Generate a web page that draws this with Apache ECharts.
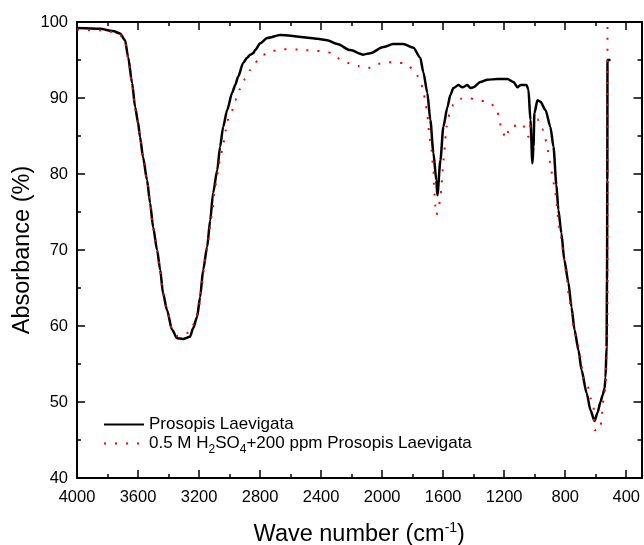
<!DOCTYPE html>
<html>
<head>
<meta charset="utf-8">
<script src="https://cdn.jsdelivr.net/npm/echarts@6/dist/echarts.min.js"></script>
<style>
html,body{margin:0;padding:0;background:#fff;}
#chart{width:644px;height:545px;}
</style>
</head>
<body>
<div id="chart"></div>
<script>
// ---- Data ----
const nameBlack = 'Prosopis Laevigata';
const nameRed = '0.5 M H2SO4+200 ppm Prosopis Laevigata';

const wavenumberBlack = [4000,3850,3764,3718,3685,3665,3639,3619,3600,3587,3567,3541,3521,3501,3475,3455,3436,3410,3377,3344,3305,3259,3239,3213,3193,3173,3147,3127,3108,3081,3062,3042,3016,2983,2963,2944,2911,2885,2865,2845,2832,2799,2753,2668,2602,2517,2425,2360,2294,2209,2124,2078,1992,1927,1861,1795,1750,1730,1704,1684,1664,1645,1638,1618,1599,1572,1553,1533,1500,1474,1441,1422,1402,1356,1310,1244,1179,1139,1113,1093,1054,1041,1028,1015,1008,1002,982,962,929,897,877,858,845,825,806,779,759,739,713,693,660,634,608,588,569,555,542,536,529,526,524,523,503];
const absorbanceBlack = [99.2,99.1,98.8,98.5,97.6,95.4,92.0,88.8,86.8,84.9,82.2,79.2,76.2,73.0,70.0,67.4,64.3,62.1,59.5,58.4,58.3,58.6,59.7,61.2,63.8,67.4,70.4,73.9,77.5,80.5,83.6,86.2,88.4,90.7,91.7,92.8,94.6,95.3,95.7,95.9,96.3,97.2,97.9,98.3,98.2,98.0,97.8,97.6,97.1,96.3,95.7,95.9,96.7,97.1,97.1,96.6,95.3,93.4,90.7,87.1,82.8,79.2,77.2,81.8,86.2,88.8,90.4,91.3,91.7,91.4,91.7,91.3,91.4,92.1,92.4,92.5,92.5,92.1,91.4,91.7,91.7,91.1,87.1,81.4,83.6,88.0,89.7,89.5,88.4,86.2,83.6,78.6,75.3,72.2,68.7,65.7,62.5,59.5,56.8,54.2,51.2,48.9,47.5,48.6,50.0,50.9,51.8,53.2,57.2,66.1,79.2,95.0,95.0];

const wavenumberRed = [4000,3850,3764,3718,3685,3665,3639,3619,3600,3587,3567,3541,3521,3501,3475,3455,3436,3410,3377,3344,3318,3259,3232,3206,3193,3186,3173,3167,3154,3140,3134,3121,3108,3101,3088,3075,3062,3042,3029,3016,2983,2963,2931,2898,2865,2832,2780,2721,2655,2583,2504,2432,2373,2327,2274,2222,2156,2097,2032,1966,1900,1841,1789,1756,1730,1717,1704,1697,1691,1677,1671,1664,1661,1658,1654,1645,1631,1618,1612,1605,1599,1592,1579,1559,1533,1487,1435,1369,1303,1251,1231,1218,1185,1166,1113,1080,1054,1041,1028,982,949,923,910,897,884,870,858,851,845,831,818,811,798,785,779,765,752,746,719,706,693,687,654,634,614,608,569,562,549,536,529,523,523];
const absorbanceRed = [99.0,98.9,98.7,98.3,97.4,95.2,91.8,88.6,86.6,84.8,82.1,79.1,76.1,72.9,69.9,67.3,64.3,62.1,59.6,58.7,58.7,59.2,60.3,61.8,63.4,65.0,66.4,68.0,69.6,71.1,72.6,74.2,75.7,77.4,78.8,80.4,82.1,83.8,85.4,87.0,88.4,89.7,91.2,92.5,93.7,94.7,95.7,96.2,96.4,96.4,96.3,96.2,96.1,95.9,95.1,94.6,94.2,93.9,94.5,94.7,94.7,94.5,93.6,92.6,91.1,89.5,88.0,86.4,84.9,83.4,81.8,80.3,78.8,77.6,76.2,74.6,75.4,76.8,78.4,80.1,81.6,83.2,86.2,87.8,89.1,89.9,90.0,89.7,89.5,88.7,87.2,85.7,84.7,86.2,86.4,86.6,85.4,84.9,86.4,87.2,85.9,84.3,82.8,81.3,79.7,78.3,76.7,75.0,73.6,72.0,70.4,68.9,67.4,65.8,64.3,62.8,61.2,59.7,57.9,56.4,54.9,53.3,52.2,50.5,49.3,46.3,46.4,48.0,50.3,52.0,55.9,59.5,99.5];

const xMajorTicks = [4000,3600,3200,2800,2400,2000,1600,1200,800,400];
const xMinorTicks = [3800,3400,3000,2600,2200,1800,1400,1000,600];
const yMin = 40, yMax = 100, yInterval = 10;
const xMin = 300, xMax = 4000;

// ---- Build ----
const FONT = 'Liberation Sans, Arial, Helvetica, sans-serif';
const pairs = (xs, ys) => xs.map((x, i) => [x, ys[i]]);

function xAxisDef(pos, ticks, len, withLine, withLabel) {
  return {
    type: 'value', position: pos, inverse: true, min: xMin, max: xMax,
    axisLine: { show: withLine, onZero: false, lineStyle: { color: '#000', width: 2 } },
    axisTick: { show: true, inside: true, length: len, customValues: ticks, lineStyle: { color: '#000', width: 1.5 } },
    axisLabel: withLabel ? {
      show: true, customValues: ticks, fontSize: 16.5, color: '#000', fontFamily: FONT, margin: 11,
      formatter: function (v) { return String(v); }
    } : { show: false },
    splitLine: { show: false }
  };
}

const xAxes = [
  Object.assign(xAxisDef('bottom', xMajorTicks, 8, true, true), {
    name: 'Wave number (cm{sup|-1})',
    nameLocation: 'middle',
    nameGap: 43,
    nameMoveOverlap: false,
    nameTextStyle: {
      fontSize: 23.5, color: '#000', fontFamily: FONT,
      rich: { sup: { fontSize: 14, color: '#000', fontFamily: FONT, padding: [0, 0, 14, 0] } }
    }
  }),
  xAxisDef('bottom', xMinorTicks, 4, false, false),
  xAxisDef('top', xMajorTicks, 8, true, false),
  xAxisDef('top', xMinorTicks, 4, false, false)
];

function yAxisDef(pos, withLabel) {
  return {
    type: 'value', position: pos, min: yMin, max: yMax, interval: yInterval,
    axisLine: { show: true, onZero: false, lineStyle: { color: '#000', width: 2 } },
    axisTick: { show: true, inside: true, length: 8, lineStyle: { color: '#000', width: 1.5 } },
    minorTick: { show: true, splitNumber: 2, length: 4, lineStyle: { color: '#000', width: 1.5 } },
    axisLabel: withLabel ? { show: true, fontSize: 16.5, color: '#000', fontFamily: FONT, margin: 9 } : { show: false },
    splitLine: { show: false },
    minorSplitLine: { show: false }
  };
}

const yAxes = [
  Object.assign(yAxisDef('left', true), {
    name: 'Absorbance (%)',
    nameLocation: 'middle',
    nameGap: 42,
    nameMoveOverlap: false,
    nameTextStyle: { fontSize: 23.5, color: '#000', fontFamily: FONT }
  }),
  yAxisDef('right', false)
];

const chart = echarts.init(document.getElementById('chart'), null, { renderer: 'canvas' });
chart.setOption({
  animation: false,
  backgroundColor: '#fff',
  grid: { left: 77, right: 2.5, top: 22, bottom: 67, containLabel: false, outerBoundsMode: 'none' },
  xAxis: xAxes,
  yAxis: yAxes,
  legend: {
    left: 98, top: 411, orient: 'vertical',
    itemWidth: 40, itemHeight: 14, itemGap: 2,
    data: [nameBlack, nameRed],
    itemStyle: { opacity: 0 },
    textStyle: {
      fontSize: 17, color: '#000', fontFamily: FONT,
      rich: { sub: { fontSize: 12, color: '#000', fontFamily: FONT, padding: [12, 0, 0, 0] } }
    },
    formatter: function (n) {
      return n === nameRed ? '0.5 M H{sub|2}SO{sub|4}+200 ppm Prosopis Laevigata' : n;
    }
  },
  series: [
    {
      name: nameBlack, type: 'line', xAxisIndex: 0, yAxisIndex: 0,
      data: pairs(wavenumberBlack, absorbanceBlack),
      symbol: 'none', showSymbol: false, smooth: 0.25, smoothMonotone: 'x',
      lineStyle: { color: '#000', width: 2.5 },
      itemStyle: { color: '#000' },
      z: 3
    },
    {
      name: nameRed, type: 'line', xAxisIndex: 0, yAxisIndex: 0,
      data: pairs(wavenumberRed, absorbanceRed),
      symbol: 'none', showSymbol: false, smooth: 0.25, smoothMonotone: 'x',
      lineStyle: { color: '#ff0000', width: 2, type: [2, 9] },
      itemStyle: { color: '#ff0000' },
      z: 4
    }
  ]
});
</script>
</body>
</html>
